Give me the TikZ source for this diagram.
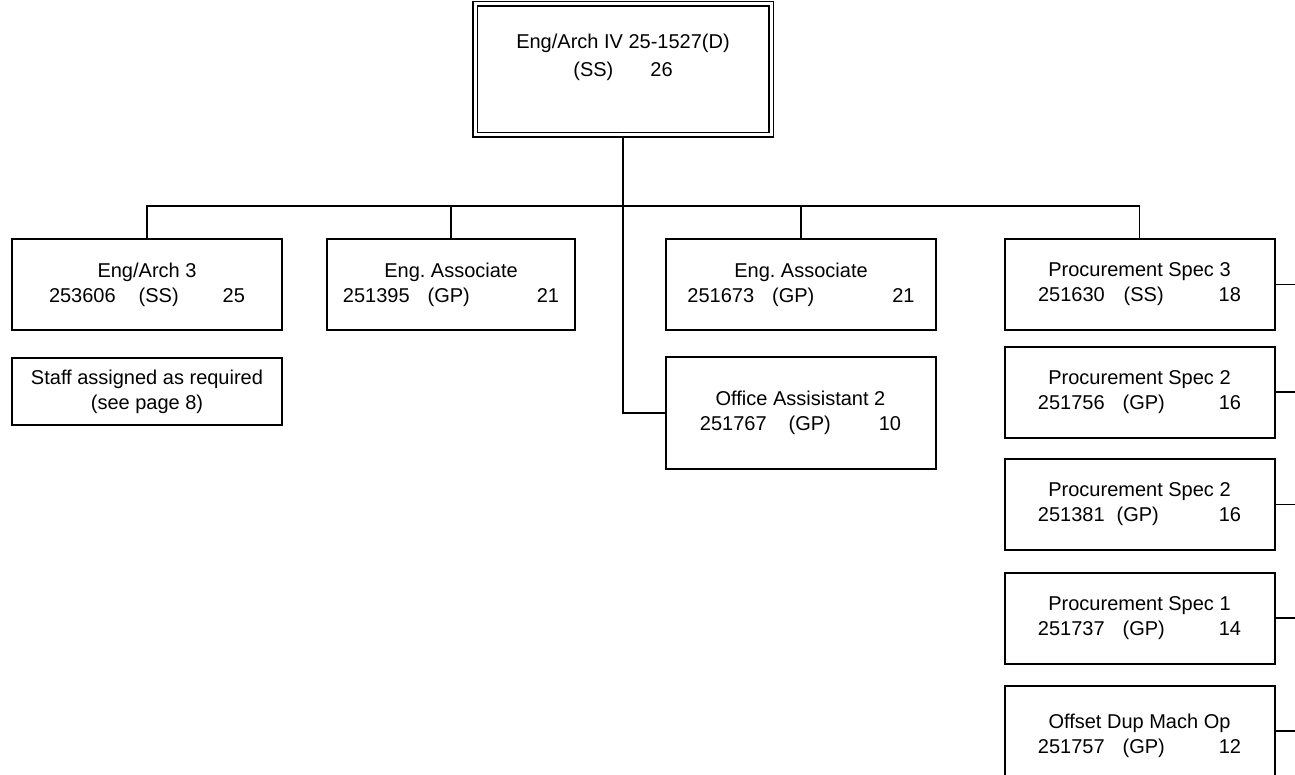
\documentclass[tikz,border=0pt]{standalone}
\usepackage{fontspec}
\setmainfont{Liberation Sans}
\frenchspacing
\usepackage{tikz}
\tikzset{post style/.style = {%
  draw = black,
  line width = 1pt,
  shape = rectangle,
  align = center,
  inner sep = 0pt,
  minimum width = 135pt,
  minimum height = 45.5pt,
  font = \fontsize{10}{12.5}\selectfont
 },
 head style/.style = {%
  post style,
  line width = 0.65pt,
  double = white,
  double distance = 1.5pt,
  minimum width = 148pt,
  minimum height = 65.5pt,
  font = \fontsize{10}{14}\selectfont
 },
 bus style/.style = {%
  draw = black,
  line width = 0.9pt
 }
}

\begin{document}
\begin{tikzpicture}[x=0.5pt,y=-0.5pt]
      \useasboundingbox (0,0) rectangle (1295,775);

      \node[head style] (head) at (623,69.5) {Eng/Arch IV 25-1527(D)\\(SS)\hspace{18.5pt}26\\~};

      \node[post style] (arch) at (147,284.5) {Eng/Arch 3\\253606\hspace{11.5pt}(SS)\hspace{22pt}25};
      \node[post style, minimum width=124pt] (assocA) at (451,284.5) {Eng. Associate\\251395\hspace{9pt}(GP)\hspace{33.5pt}21};
      \node[post style] (assocB) at (801,284.5) {Eng. Associate\\251673\hspace{9pt}(GP)\hspace{39pt}21};
      \node[post style] (procS) at (1139.5,284.5) {Procurement Spec 3\\251630\hspace{9.5pt}(SS)\hspace{27.5pt}18};

      \node[post style, minimum height=33.5pt] (staff) at (147,391.5) {Staff assigned as required\\(see page 8)};
      \node[post style, minimum height=56pt] (office) at (800.5,413) {Office Assisistant 2\\251767\hspace{11pt}(GP)\hspace{24pt}10};

      \node[post style] (procA) at (1139.5,392) {Procurement Spec 2\\251756\hspace{9pt}(GP)\hspace{27pt}16};
      \node[post style] (procB) at (1139.5,504.5) {Procurement Spec 2\\251381\hspace{6pt}(GP)\hspace{30pt}16};
      \node[post style] (procC) at (1139.5,618) {Procurement Spec 1\\251737\hspace{9pt}(GP)\hspace{27pt}14};
      \node[post style] (offset) at (1139.5,731) {~\\Offset Dup Mach Op\\251757\hspace{9pt}(GP)\hspace{27pt}12};

      \coordinate (bus) at (623,205.7);
      \coordinate (edge) at (1295,0);

      \draw[bus style] (head.south) |- (office.west);
      \draw[bus style] (arch.north) |- (bus) -| (procS.north);
      \foreach \n in {assocA,assocB}
        \draw[bus style] (\n.north) -- (\n.north |- bus);
      \foreach \n in {procS,procA,procB,procC,offset}
        \draw[bus style] (\n.east) -- (\n.east -| edge);
     \end{tikzpicture}
\end{document}
